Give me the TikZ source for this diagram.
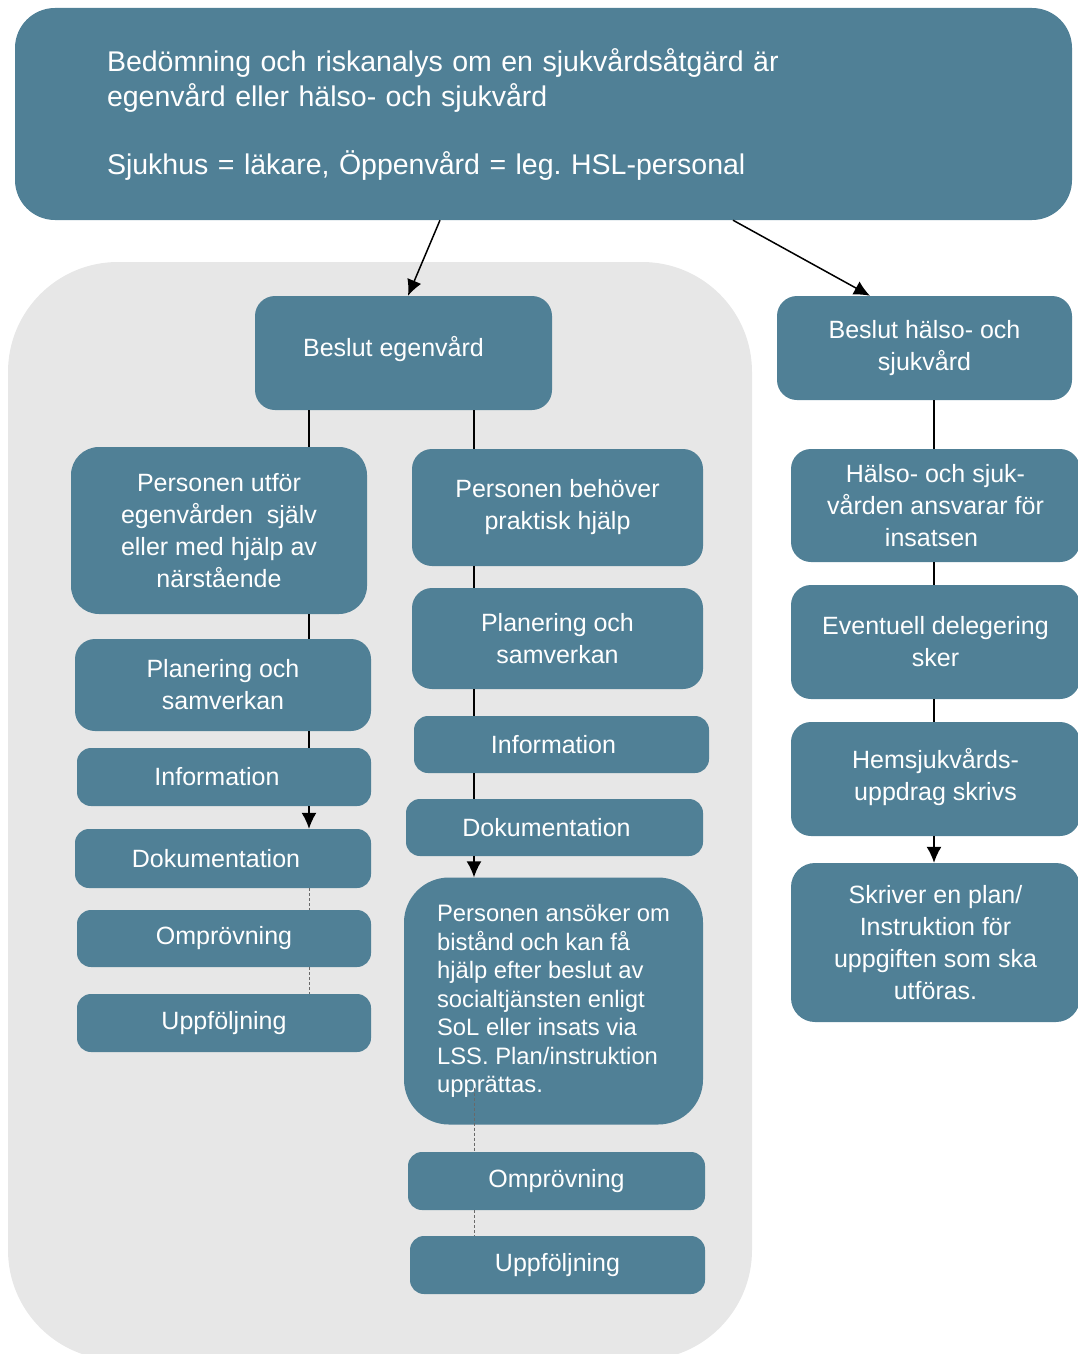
\documentclass[tikz,border=0pt]{standalone}
\usepackage{fontspec}
\setmainfont{Liberation Sans}
\usetikzlibrary{arrows.meta,calc}
\definecolor{boxfill}{RGB}{80,128,150}
\definecolor{bggray}{RGB}{231,231,231}
\definecolor{dashgray}{RGB}{105,105,105}
\frenchspacing
\begin{document}
\begin{tikzpicture}[x=1pt,y=-1pt,
  box/.style={fill=boxfill, rounded corners=20pt, text=white, align=center, inner sep=0pt,
    font=\fontsize{25}{32}\selectfont},
  conn/.style={draw=black, line width=1.5pt},
  arr/.style={conn, -{Latex[length=16pt,width=15pt]}},
  faint/.style={draw=dashgray, line width=1pt, dash pattern=on 3pt off 2pt},
]
\useasboundingbox (0,0) rectangle (1077,1354);
% grey background panel
\fill[bggray, rounded corners=110pt] (8,262) rectangle (752,1360);

% top box
\node[box, rounded corners=40pt, minimum width=1057pt, minimum height=212pt, inner xsep=92pt,
  text width=873pt, align=left, font=\fontsize{28.5}{35}\selectfont] (top) at (543.5,114)
  {Bedömning och riskanalys om en sjukvårdsåtgärd är\\ egenvård eller hälso- och sjukvård\\[33pt]
   Sjukhus = läkare, Öppenvård = leg. HSL-personal};

\node[box, minimum width=297pt, minimum height=114pt, text depth=14pt] (egen) at (403.5,353) {Beslut egenvård\hspace*{20pt}};
\node[box, minimum width=295pt, minimum height=104pt] (hs) at (924.5,348) {Beslut hälso- och\\ sjukvård};

% left column
\node[box, rounded corners=28pt, minimum width=296pt, minimum height=167pt] (L1) at (219,530.5)
  {Personen utför\\ egenvården \ själv\\ eller med hjälp av\\ närstående};
\node[box, minimum width=296pt, minimum height=92pt] (L2) at (223,685) {Planering och\\ samverkan};
\node[box, rounded corners=14pt, minimum width=294pt, minimum height=58pt] (L3) at (224,777) {Information\hspace*{14pt}};
\node[box, rounded corners=14pt, minimum width=296pt, minimum height=59pt] (L4) at (223,858.5) {Dokumentation\hspace*{14pt}};
\node[box, rounded corners=14pt, minimum width=294pt, minimum height=57pt] (L5) at (224,938.5) {Omprövning};
\node[box, rounded corners=14pt, minimum width=294pt, minimum height=58pt] (L6) at (224,1023) {Uppföljning};

% middle column
\node[box, minimum width=291pt, minimum height=117pt] (M1) at (557.5,507.5) {Personen behöver\\ praktisk hjälp};
\node[box, minimum width=291pt, minimum height=101pt] (M2) at (557.5,638.5) {Planering och\\ samverkan};
\node[box, rounded corners=14pt, minimum width=295pt, minimum height=57pt] (M3) at (561.5,744.5) {Information\hspace*{16pt}};
\node[box, rounded corners=14pt, minimum width=297pt, minimum height=57pt] (M4) at (554.5,827.5) {Dokumentation\hspace*{16pt}};
\node[box, rounded corners=45pt, minimum width=299pt, minimum height=247pt, align=left,
  font=\fontsize{23.8}{28.5}\selectfont] (M5) at (553.5,1001)
  {Personen ansöker om\\ bistånd och kan få\\ hjälp efter beslut av\\ socialtjänsten enligt\\
   SoL eller insats via\\ LSS. Plan/instruktion\\ upprättas.};
\node[box, rounded corners=14pt, minimum width=297pt, minimum height=58pt] (M6) at (556.5,1181) {Omprövning};
\node[box, rounded corners=14pt, minimum width=295pt, minimum height=58pt] (M7) at (557.5,1265) {Uppföljning};

% right column
\node[box, minimum width=289pt, minimum height=113pt] (R1) at (935.5,505.5) {Hälso- och sjuk-\\ vården ansvarar för\\ insatsen\hspace*{8pt}};
\node[box, minimum width=289pt, minimum height=114pt] (R2) at (935.5,642) {Eventuell delegering\\ sker};
\node[box, minimum width=289pt, minimum height=114pt, text depth=10pt] (R3) at (935.5,779) {Hemsjukvårds-\\ uppdrag skrivs};
\node[box, rounded corners=24pt, minimum width=289pt, minimum height=159pt] (R4) at (935.5,942.5)
  {Skriver en plan/\\ Instruktion för\\ uppgiften som ska\\ utföras.};

% connector x positions
\coordinate (ta) at (440,0);
\coordinate (tb) at (408,0);
\coordinate (tc) at (733,0);
\coordinate (td) at (870,0);
\coordinate (cl) at (309,0);
\coordinate (cm) at (474,0);
\coordinate (cr) at (934,0);

% connectors from top
\draw[arr] (top.south -| ta) -- (egen.north -| tb);
\draw[arr] (top.south -| tc) -- (hs.north -| td);

% left column connectors
\draw[conn] (egen.south -| cl) -- (L1.north -| cl);
\draw[conn] (L1.south -| cl) -- (L2.north -| cl);
\draw[conn] (L2.south -| cl) -- (L3.north -| cl);
\draw[arr] (L3.south -| cl) -- (L4.north -| cl);
\draw[faint] (L4.south -| cl) -- (L5.north -| cl);
\draw[faint] (L5.south -| cl) -- (L6.north -| cl);

% middle column connectors
\draw[conn] (egen.south -| cm) -- (M1.north -| cm);
\draw[conn] (M1.south -| cm) -- (M2.north -| cm);
\draw[conn] (M2.south -| cm) -- (M3.north -| cm);
\draw[conn] (M3.south -| cm) -- (M4.north -| cm);
\draw[arr] (M4.south -| cm) -- (M5.north -| cm);
\draw[faint] ($(M5.south -| cm)+(0,-37)$) -- (M6.north -| cm);
\draw[faint] (M6.south -| cm) -- (M7.north -| cm);

% right column connectors
\draw[conn] (hs.south -| cr) -- (R1.north -| cr);
\draw[conn] (R1.south -| cr) -- (R2.north -| cr);
\draw[conn] (R2.south -| cr) -- (R3.north -| cr);
\draw[arr] (R3.south -| cr) -- (R4.north -| cr);
\end{tikzpicture}
\end{document}
